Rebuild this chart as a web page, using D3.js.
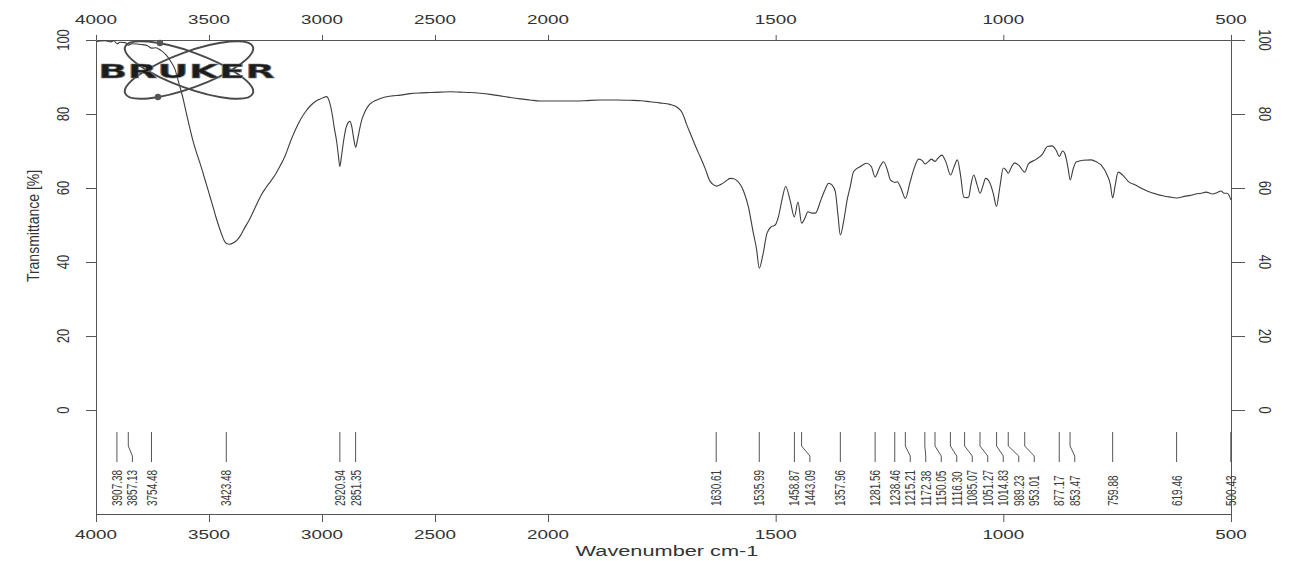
<!DOCTYPE html>
<html>
<head>
<meta charset="utf-8">
<script src="https://cdn.jsdelivr.net/npm/d3@7"></script>
<style>
  html, body { margin: 0; padding: 0; background: #ffffff; }
  svg { display: block; font-family: "Liberation Sans", Arial, sans-serif; }
</style>
</head>
<body>
<svg id="chart" width="1293" height="561"></svg>
<script>
// IR spectrum: wavenumber (cm-1) and transmittance (%)
const wavenumbers = [
  4000, 3960, 3935, 3920, 3907, 3895, 3870, 3857, 3840, 3800, 3770, 3754, 3735, 3713, 3690,
  3669, 3650, 3634, 3618, 3603, 3588, 3572, 3555, 3536, 3518, 3501, 3485, 3470, 3455, 3444,
  3433, 3423, 3410, 3391, 3375, 3360, 3340, 3325, 3305, 3289, 3270, 3249, 3225, 3205, 3185,
  3161, 3140, 3117, 3095, 3073, 3050, 3029, 3010, 2995, 2980, 2968, 2955, 2945, 2935, 2927,
  2921, 2914, 2905, 2895, 2885, 2877, 2868, 2860, 2851, 2843, 2834, 2822, 2810, 2795, 2777,
  2750, 2720, 2690, 2653, 2610, 2565, 2520, 2477, 2430, 2389, 2345, 2300, 2255, 2212, 2170,
  2124, 2080, 2035, 2000, 1952, 1920, 1886, 1850, 1820, 1795, 1776, 1755, 1732, 1715, 1705,
  1695, 1685, 1675, 1666, 1655, 1644, 1637, 1630, 1620, 1610, 1600, 1592, 1585, 1577, 1570,
  1560, 1549, 1542, 1536, 1528, 1519, 1510, 1501, 1494, 1485, 1478, 1468, 1459, 1451, 1443,
  1436, 1429, 1420, 1413, 1400, 1390, 1384, 1376, 1369, 1363, 1358, 1350, 1343, 1336, 1329,
  1314, 1300, 1290, 1281.5, 1272, 1263, 1255, 1248, 1238, 1233, 1225, 1215, 1205, 1197, 1186,
  1178, 1172, 1166, 1158, 1150, 1144, 1135, 1126, 1116, 1108, 1101, 1094, 1087, 1080, 1076,
  1071, 1065, 1058, 1051, 1045, 1039, 1030, 1022, 1015, 1008, 1000, 995, 989, 983, 975,
  965, 953, 945, 930, 915, 903, 893, 884, 877, 870, 864, 858, 853, 847, 840,
  825, 807, 795, 785, 772, 765, 760, 754, 748, 738, 724, 710, 698, 680, 665,
  650, 636, 619.5, 600, 590, 577, 565, 555, 540, 530, 522, 515, 509, 504, 500.4
];
const transmittance = [
  99.6, 99.8, 99.5, 99.8, 99.0, 99.4, 99.3, 98.6, 99.0, 98.8, 98.4, 97.8, 97.9, 97.2, 96.0,
  94.2, 92.0, 88.5, 85.0, 81.0, 77.0, 73.0, 69.5, 66.0, 62.3, 58.8, 55.5, 52.3, 49.4, 47.5,
  45.8, 45.0, 44.8, 45.2, 46.0, 47.2, 49.5, 51.0, 53.5, 55.6, 58.0, 60.0, 62.0, 63.8, 66.0,
  69.0, 72.5, 75.8, 78.5, 80.6, 82.3, 83.4, 84.0, 84.4, 84.7, 83.5, 80.0, 76.0, 72.5, 68.5,
  65.8, 68.5, 72.5, 76.0, 77.6, 78.0, 76.5, 73.5, 71.0, 73.0, 75.8, 78.8, 80.6, 82.2, 83.2,
  84.0, 84.6, 84.9, 85.1, 85.5, 85.7, 85.8, 85.9, 86.0, 85.9, 85.8, 85.6, 85.3, 84.9, 84.5,
  84.1, 83.8, 83.5, 83.5, 83.5, 83.6, 83.8, 83.8, 83.7, 83.6, 83.3, 83.0, 82.6, 81.7, 80.3,
  77.0, 74.0, 71.0, 68.5, 65.3, 61.8, 60.9, 60.5, 61.0, 61.8, 62.6, 62.5, 62.0, 60.8, 59.0,
  55.0, 47.8, 43.5, 38.3, 42.0, 47.8, 49.5, 50.0, 52.2, 57.5, 60.4, 56.5, 52.2, 56.2, 50.5,
  51.8, 53.6, 53.2, 53.2, 57.0, 60.0, 61.3, 60.8, 59.0, 52.5, 47.3, 51.5, 56.8, 60.5, 64.4,
  65.8, 66.7, 65.8, 63.0, 65.5, 67.1, 65.0, 62.2, 61.5, 61.7, 60.0, 57.2, 61.5, 64.9, 67.8,
  67.4, 66.5, 67.0, 67.8, 67.2, 68.0, 68.9, 67.0, 63.5, 65.8, 67.6, 63.5, 57.6, 57.4, 57.6,
  61.0, 63.5, 61.0, 58.6, 60.5, 62.6, 61.5, 58.5, 55.0, 60.0, 65.4, 65.0, 64.0, 65.5, 66.8,
  66.0, 64.3, 66.5, 67.6, 69.0, 71.2, 71.4, 70.2, 68.5, 70.0, 69.0, 65.5, 62.2, 65.0, 67.0,
  67.5, 67.6, 67.0, 66.2, 63.5, 61.0, 57.3, 61.0, 64.3, 63.5, 61.6, 60.8, 60.0, 59.0, 58.4,
  57.9, 57.6, 57.3, 57.8, 58.0, 58.4, 58.6, 58.9, 58.4, 58.8, 59.2, 58.6, 58.6, 58.0, 56.8
];

// Picked band positions (cm-1)
const peakPositions = [
  3907.38, 3857.13, 3754.48, 3423.48, 2920.94, 2851.35, 1630.61, 1535.99, 1458.87,
  1443.09, 1357.96, 1281.56, 1238.46, 1215.21, 1172.38, 1150.05, 1116.30, 1085.07,
  1051.27, 1014.83, 989.23, 953.01, 877.17, 853.47, 759.88, 619.46, 500.43
];

const xTickValues = [4000, 3500, 3000, 2500, 2000, 1500, 1000, 500];
const yTickValues = [0, 20, 40, 60, 80, 100];
const xAxisTitle = "Wavenumber cm-1";
const yAxisTitle = "Transmittance [%]";
const logoText = "BRUKER";

// ---- layout ----
const plotLeft = 96, plotRight = 1231, plotTop = 40, plotBottom = 514;
const breakX = 548;               // 2000 cm-1: scale doubles below this point
const textColor = "#333";
const axisColor = "#555";
const hStretch = 1.45;            // wide print glyphs

const svg = d3.select("#chart");

const x = d3.scaleLinear().domain([4000, 2000, 500]).range([plotLeft, breakX, plotRight]);
const y = d3.scaleLinear().domain([-28.1, 100]).range([plotBottom, plotTop]);

function hText(g, px, py, str, size, anchor, sx) {
  return g.append("text")
    .attr("transform", `translate(${px},${py}) scale(${sx},1)`)
    .attr("text-anchor", anchor)
    .attr("font-size", size)
    .attr("fill", textColor)
    .text(str);
}
function vText(g, px, py, str, size, angle, sy, anchor) {
  return g.append("text")
    .attr("transform", `translate(${px},${py}) rotate(${angle}) scale(1,${sy})`)
    .attr("text-anchor", anchor || "middle")
    .attr("dy", "0.36em")
    .attr("font-size", size)
    .attr("fill", textColor)
    .text(str);
}

// ---- axes ----
function styleAxis(g) {
  g.selectAll("path, line").attr("stroke", axisColor).attr("stroke-width", 1);
  g.selectAll("text").remove();
}

svg.append("g")
  .attr("transform", `translate(0,${plotTop})`)
  .call(d3.axisTop(x).tickValues(xTickValues).tickSize(5).tickSizeOuter(0).tickFormat(""))
  .call(styleAxis);

svg.append("g")
  .attr("transform", `translate(0,${plotBottom})`)
  .call(d3.axisBottom(x).tickValues(xTickValues).tickSize(8).tickSizeOuter(0).tickFormat(""))
  .call(styleAxis);

svg.append("g")
  .attr("transform", `translate(${plotLeft},0)`)
  .call(d3.axisLeft(y).tickValues(yTickValues).tickSize(10).tickSizeOuter(0).tickFormat(""))
  .call(styleAxis);

svg.append("g")
  .attr("transform", `translate(${plotRight},0)`)
  .call(d3.axisRight(y).tickValues(yTickValues).tickSize(14).tickSizeOuter(0).tickFormat(""))
  .call(styleAxis);

const labels = svg.append("g");
xTickValues.forEach(v => {
  hText(labels, x(v), 24, String(v), 13, "middle", hStretch);
  hText(labels, x(v), 539, String(v), 13, "middle", hStretch);
});
yTickValues.forEach(v => {
  vText(labels, 63, y(v), String(v), 13, -90, 1.2);
  vText(labels, 1265, y(v), String(v), 13, 90, 1.2);
});
hText(labels, 667, 556, xAxisTitle, 15, "middle", hStretch);
vText(labels, 33, 226, yAxisTitle, 14, -90, 1.15);

// ---- spectrum trace ----
const spectrum = wavenumbers.map((w, i) => [w, transmittance[i]]);
svg.append("path")
  .datum(spectrum)
  .attr("fill", "none")
  .attr("stroke", "#3d3d3d")
  .attr("stroke-width", 1.1)
  .attr("stroke-linejoin", "round")
  .attr("d", d3.line().x(d => x(d[0])).y(d => y(d[1])).curve(d3.curveMonotoneX));

// ---- band markers with leader lines ----
const fmt = d3.format(".2f");
const minGap = 15.5;
const markers = peakPositions.map(p => ({ value: p, px: x(p) })).sort((a, b) => a.px - b.px);
markers.forEach((m, i) => {
  m.lx = i === 0 ? m.px : Math.max(m.px, markers[i - 1].lx + minGap);
});
const lineTop = 432, bendTop = 446, bendBottom = 456, lineBottom = 462, labelBase = 506;
const peaksG = svg.append("g");
markers.forEach(m => {
  const pts = Math.abs(m.lx - m.px) < 0.5
    ? [[m.px, lineTop], [m.px, lineBottom]]
    : [[m.px, lineTop], [m.px, bendTop], [m.lx, bendBottom], [m.lx, lineBottom]];
  peaksG.append("path")
    .attr("d", d3.line()(pts))
    .attr("fill", "none")
    .attr("stroke", "#555")
    .attr("stroke-width", 1);
  vText(peaksG, m.lx, labelBase, fmt(m.value), 10, -90, 1.4, "start")
    .attr("fill", "#3a3a3a");
});

// ---- instrument logo ----
const logo = svg.append("g");
const cx = 189, cy = 70;
[-20, 20].forEach(a => {
  logo.append("ellipse")
    .attr("cx", cx).attr("cy", cy).attr("rx", 68).attr("ry", 18)
    .attr("transform", `rotate(${a},${cx},${cy})`)
    .attr("fill", "none").attr("stroke", "#4a4a4a").attr("stroke-width", 2);
});
[[160, 43], [158, 97]].forEach(([ex, ey]) => {
  logo.append("circle").attr("cx", ex).attr("cy", ey).attr("r", 3.2).attr("fill", "#555");
});
logo.append("text")
  .attr("x", 98).attr("y", 78)
  .attr("font-family", "'DejaVu Sans', sans-serif")
  .attr("font-weight", "bold")
  .attr("font-size", 19)
  .attr("textLength", 177)
  .attr("lengthAdjust", "spacingAndGlyphs")
  .attr("fill", "#1c1c1c")
  .attr("stroke", "#777")
  .attr("stroke-width", 0.5)
  .text(logoText);
</script>
</body>
</html>
